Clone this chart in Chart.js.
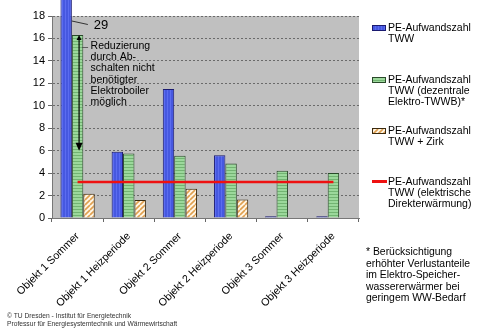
<!DOCTYPE html>
<html>
<head>
<meta charset="utf-8">
<script src="https://cdn.jsdelivr.net/npm/chart.js@4.4.0/dist/chart.umd.min.js"></script>
<style>
  html,body{margin:0;padding:0;background:#fff;}
  #wrap{position:relative;width:480px;height:328px;overflow:hidden;font-family:"Liberation Sans",Arial,sans-serif;}
  canvas{position:absolute;left:0;top:0;}
  .leg{position:absolute;left:388px;font-size:10.5px;line-height:11px;color:#000;white-space:nowrap;}
  .sw{position:absolute;box-sizing:border-box;}
  #foot{position:absolute;left:366px;top:246px;font-size:10.4px;line-height:11.5px;color:#000;white-space:nowrap;}
  #copy{position:absolute;left:7px;top:312px;font-size:6.7px;line-height:8px;color:#333;white-space:nowrap;}
</style>
</head>
<body>
<div id="wrap">
  <canvas id="c" width="480" height="328"></canvas>
  <div class="sw" id="sw0" style="left:372px;top:25px;width:14px;height:6px;border:1px solid #1a1a70;"></div>
  <div class="leg" style="top:22px;">PE-Aufwandszahl<br>TWW</div>
  <div class="sw" id="sw1" style="left:372px;top:77px;width:14px;height:6px;border:1px solid #2a4a2a;"></div>
  <div class="leg" style="top:74px;">PE-Aufwandszahl<br>TWW (dezentrale<br>Elektro-TWWB)*</div>
  <div class="sw" id="sw2" style="left:372px;top:128px;width:14px;height:6px;border:1px solid #3a2a10;"></div>
  <div class="leg" style="top:125px;">PE-Aufwandszahl<br>TWW + Zirk</div>
  <div class="sw" style="left:372px;top:180px;width:15px;height:3px;background:#ee1111;"></div>
  <div class="leg" style="top:176px;">PE-Aufwandszahl<br>TWW (elektrische<br>Direkterwärmung)</div>
  <div id="foot">* Berücksichtigung<br>erhöhter Verlustanteile<br>im Elektro-Speicher-<br>wassererwärmer bei<br>geringem WW-Bedarf</div>
  <div id="copy">© TU Dresden - Institut für Energietechnik<br>Professur für Energiesystemtechnik und Wärmewirtschaft</div>
</div>
<script>
const categories = ["Objekt 1 Sommer","Objekt 1 Heizperiode","Objekt 2 Sommer","Objekt 2 Heizperiode","Objekt 3 Sommer","Objekt 3 Heizperiode"];
const seriesNames = ["PE-Aufwandszahl TWW","PE-Aufwandszahl TWW (dezentrale Elektro-TWWB)*","PE-Aufwandszahl TWW + Zirk","PE-Aufwandszahl TWW (elektrische Direkterwärmung)"];
const twwValues = [29, 5.9, 11.5, 5.6, 0.15, 0.15];
const dezentralValues = [16.3, 5.75, 5.55, 4.85, 4.2, 4.0];
const zirkValues = [2.15, 1.6, 2.6, 1.65, 0.05, 0.05];
const direktValues = [3.2, 3.2, 3.2, 3.2, 3.2, 3.2];
const yTicks = [0, 2, 4, 6, 8, 10, 12, 14, 16, 18];
const annotationLines = ["Reduzierung","durch Ab-","schalten nicht","benötigter","Elektroboiler","möglich"];
const clippedLabel = "29";
const arrowFrom = 16.3, arrowTo = 6.0;

function mkPattern(w, h, draw) {
  const c = document.createElement('canvas'); c.width = w; c.height = h;
  const x = c.getContext('2d'); draw(x, w, h);
  return c;
}
const blueC = mkPattern(3, 3, (x) => { x.fillStyle = '#4658e0'; x.fillRect(0,0,3,3); x.fillStyle = '#5b6cf0'; x.fillRect(2,0,1,3); });
const greenC = mkPattern(3, 3, (x) => { x.fillStyle = '#9bd89b'; x.fillRect(0,0,3,3); x.fillStyle = '#72b472'; x.fillRect(0,2,3,1); });
const hatchC = mkPattern(5, 5, (x) => {
  x.fillStyle = '#fff6e6'; x.fillRect(0,0,5,5);
  x.strokeStyle = '#e0a050'; x.lineWidth = 1.6;
  x.beginPath();
  for (let k = -5; k <= 10; k += 5) { x.moveTo(k, 5); x.lineTo(k + 5, 0); }
  x.stroke();
});
const ctx0 = document.getElementById('c').getContext('2d');
const bluePat = ctx0.createPattern(blueC, 'repeat');
const greenPat = ctx0.createPattern(greenC, 'repeat');
const hatchPat = ctx0.createPattern(hatchC, 'repeat');
document.getElementById('sw0').style.backgroundImage = 'url(' + blueC.toDataURL() + ')';
document.getElementById('sw1').style.backgroundImage = 'url(' + greenC.toDataURL() + ')';
document.getElementById('sw2').style.backgroundImage = 'url(' + hatchC.toDataURL() + ')';

const bgPlugin = {
  id: 'bg',
  beforeDraw(chart) {
    const a = chart.chartArea, c = chart.ctx;
    c.save(); c.fillStyle = '#c0c0c0'; c.fillRect(a.left, a.top, a.right - a.left, a.bottom - a.top); c.restore();
  }
};
const annPlugin = {
  id: 'ann',
  afterDraw(chart) {
    const c = chart.ctx, y = chart.scales.y;
    const b0 = chart.getDatasetMeta(1).data[0];
    const g0 = chart.getDatasetMeta(2).data[0];
    c.save();
    const bx = b0.x + b0.width / 2;
    c.strokeStyle = '#333'; c.lineWidth = 1;
    c.beginPath(); c.moveTo(bx, 21); c.lineTo(bx + 16, 24.5); c.stroke();
    c.fillStyle = '#000'; c.font = '13px "Liberation Sans", Arial, sans-serif';
    c.textBaseline = 'middle'; c.textAlign = 'left';
    c.fillText(clippedLabel, bx + 22, 25.5);
    const ax = g0.x + 1.5, y1 = y.getPixelForValue(arrowFrom), y2 = y.getPixelForValue(arrowTo);
    c.strokeStyle = '#000'; c.fillStyle = '#000'; c.lineWidth = 1.2;
    c.beginPath(); c.moveTo(ax, y1 + 3); c.lineTo(ax, y2 - 6); c.stroke();
    c.beginPath(); c.moveTo(ax, y2); c.lineTo(ax - 3.5, y2 - 8); c.lineTo(ax + 3.5, y2 - 8); c.closePath(); c.fill();
    c.beginPath(); c.moveTo(ax, y1); c.lineTo(ax - 2.5, y1 + 5); c.lineTo(ax + 2.5, y1 + 5); c.closePath(); c.fill();
    c.lineWidth = 0.8; c.strokeStyle = '#444';
    c.beginPath(); c.moveTo(ax + 3, 47.5); c.lineTo(ax + 9, 47.5); c.stroke();
    c.font = '10.5px "Liberation Sans", Arial, sans-serif';
    annotationLines.forEach((t, i) => c.fillText(t, ax + 11.5, 46 + i * 11.3));
    c.restore();
  }
};

new Chart(ctx0, {
  type: 'bar',
  data: {
    labels: categories,
    datasets: [
      { type: 'line', label: seriesNames[3], data: direktValues, borderColor: '#ee1111', borderWidth: 2.5, pointRadius: 0, fill: false, order: -1 },
      { label: seriesNames[0], data: twwValues, backgroundColor: bluePat, borderColor: '#1a1a70', borderWidth: 1, clip: false },
      { label: seriesNames[1], data: dezentralValues, backgroundColor: greenPat, borderColor: '#2a4a2a', borderWidth: 1 },
      { label: seriesNames[2], data: zirkValues, backgroundColor: hatchPat, borderColor: '#3a2a10', borderWidth: 1 }
    ]
  },
  options: {
    responsive: false,
    animation: false,
    layout: { padding: { left: 0, top: 16, right: 121, bottom: 0 } },
    datasets: { bar: { categoryPercentage: 0.67, barPercentage: 1.0 } },
    plugins: { legend: { display: false }, tooltip: { enabled: false } },
    scales: {
      x: {
        grid: { offset: true, drawOnChartArea: false, drawTicks: true, tickLength: 4, tickColor: '#666' },
        border: { color: '#777', width: 1 },
        ticks: { color: '#000', font: { family: '"Liberation Sans", Arial, sans-serif', size: 10.7 }, maxRotation: 45, minRotation: 45, padding: 8, autoSkip: false },
        afterFit(s) { s.height = 110; }
      },
      y: {
        min: 0, max: 18,
        afterBuildTicks(s) { s.ticks = yTicks.map(v => ({ value: v })); },
        grid: { color: '#6a6a6a', lineWidth: 1, drawTicks: true, tickLength: 4, tickColor: '#666' },
        border: { color: '#777', width: 1, dash: [2, 2] },
        ticks: { color: '#000', font: { family: '"Liberation Sans", Arial, sans-serif', size: 11 }, padding: 3 },
        afterFit(s) { s.width = 52; }
      }
    }
  },
  plugins: [bgPlugin, annPlugin]
});
</script>
</body>
</html>
